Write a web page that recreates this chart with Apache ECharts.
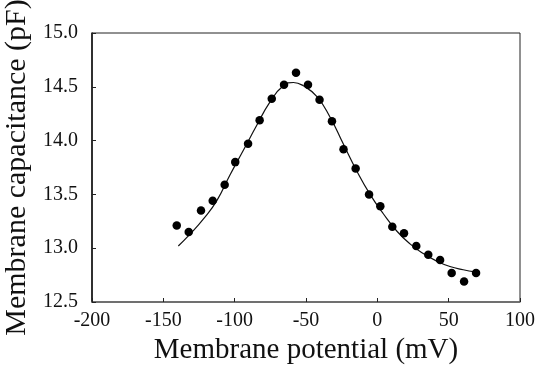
<!DOCTYPE html>
<html>
<head>
<meta charset="utf-8">
<script src="https://cdn.jsdelivr.net/npm/echarts@6/dist/echarts.min.js"></script>
<style>
  html, body { margin: 0; padding: 0; background: #fff; }
  #chart { width: 537px; height: 370px; }
</style>
</head>
<body>
<div id="chart"></div>
<script>
// measured points: potential (mV) and capacitance (pF)
const pointsMV = [-140.6, -132.2, -123.6, -115.4, -107.0, -99.6, -90.6, -82.5, -74.0, -65.4, -57.0, -48.6, -40.5,
  -31.8, -23.7, -15.2, -5.8, 2.1, 10.5, 18.7, 27.3, 35.7, 44.0, 52.1, 60.8, 69.2];
const pointsPF = [13.21, 13.15, 13.35, 13.44, 13.59, 13.80, 13.97, 14.19, 14.39, 14.52, 14.63, 14.52, 14.38,
  14.18, 13.92, 13.74, 13.50, 13.39, 13.20, 13.14, 13.02, 12.94, 12.89, 12.77, 12.69, 12.77];

// fitted curve
const fitMV = [-139.5, -131.3, -122.0, -112.6, -103.3, -93.9, -84.6, -75.2, -65.9, -58.8, -51.9, -42.5,
  -33.2, -23.9, -14.5, -5.1, 4.2, 13.6, 22.9, 32.2, 41.6, 50.9, 60.2, 68.5];
const fitPF = [13.02, 13.13, 13.27, 13.44, 13.68, 13.91, 14.14, 14.36, 14.51, 14.54, 14.51, 14.41,
  14.22, 13.97, 13.72, 13.50, 13.32, 13.16, 13.04, 12.95, 12.88, 12.83, 12.80, 12.78];

const xTicks = { min: -200, max: 100, step: 50 };
const yTicks = { min: 12.5, max: 15.0, step: 0.5 };

const font = "'Liberation Serif', 'Times New Roman', serif";

const chart = echarts.init(document.getElementById("chart"), null, { renderer: "canvas" });

chart.setOption({
  backgroundColor: "#fff",
  animation: false,
  grid: {
    left: 92,
    right: 17,
    top: 33,
    bottom: 68,
    outerBoundsMode: "none",
    show: true,
    borderColor: "#222",
    borderWidth: 1
  },
  xAxis: {
    type: "value",
    min: xTicks.min,
    max: xTicks.max,
    interval: xTicks.step,
    name: "Membrane potential (mV)",
    nameLocation: "middle",
    nameGap: 33,
    nameTextStyle: { fontFamily: font, fontSize: 29, color: "#111" },
    axisLine: { onZero: false, lineStyle: { color: "#666", width: 1.5 } },
    axisTick: { inside: true, length: 4, lineStyle: { color: "#222" } },
    axisLabel: { fontFamily: font, fontSize: 20, color: "#111", margin: 9 },
    splitLine: { show: false }
  },
  yAxis: {
    type: "value",
    min: yTicks.min,
    max: yTicks.max,
    interval: yTicks.step,
    name: "Membrane capacitance (pF)",
    nameLocation: "middle",
    nameGap: 57,
    nameTextStyle: { fontFamily: font, fontSize: 30, color: "#111" },
    axisLine: { onZero: false, lineStyle: { color: "#111", width: 1.5 } },
    axisTick: { inside: true, length: 4, lineStyle: { color: "#222" } },
    axisLabel: {
      fontFamily: font, fontSize: 20, color: "#111", margin: 14,
      formatter: (v) => v.toFixed(1)
    },
    splitLine: { show: false }
  },
  series: [
    {
      name: "fit",
      type: "line",
      smooth: true,
      showSymbol: false,
      data: fitMV.map((x, i) => [x, fitPF[i]]),
      lineStyle: { color: "#111", width: 1.2 },
      z: 2
    },
    {
      name: "data",
      type: "scatter",
      symbolSize: 8.5,
      data: pointsMV.map((x, i) => [x, pointsPF[i]]),
      itemStyle: { color: "#000", opacity: 1 },
      z: 3
    }
  ]
});
</script>
</body>
</html>
